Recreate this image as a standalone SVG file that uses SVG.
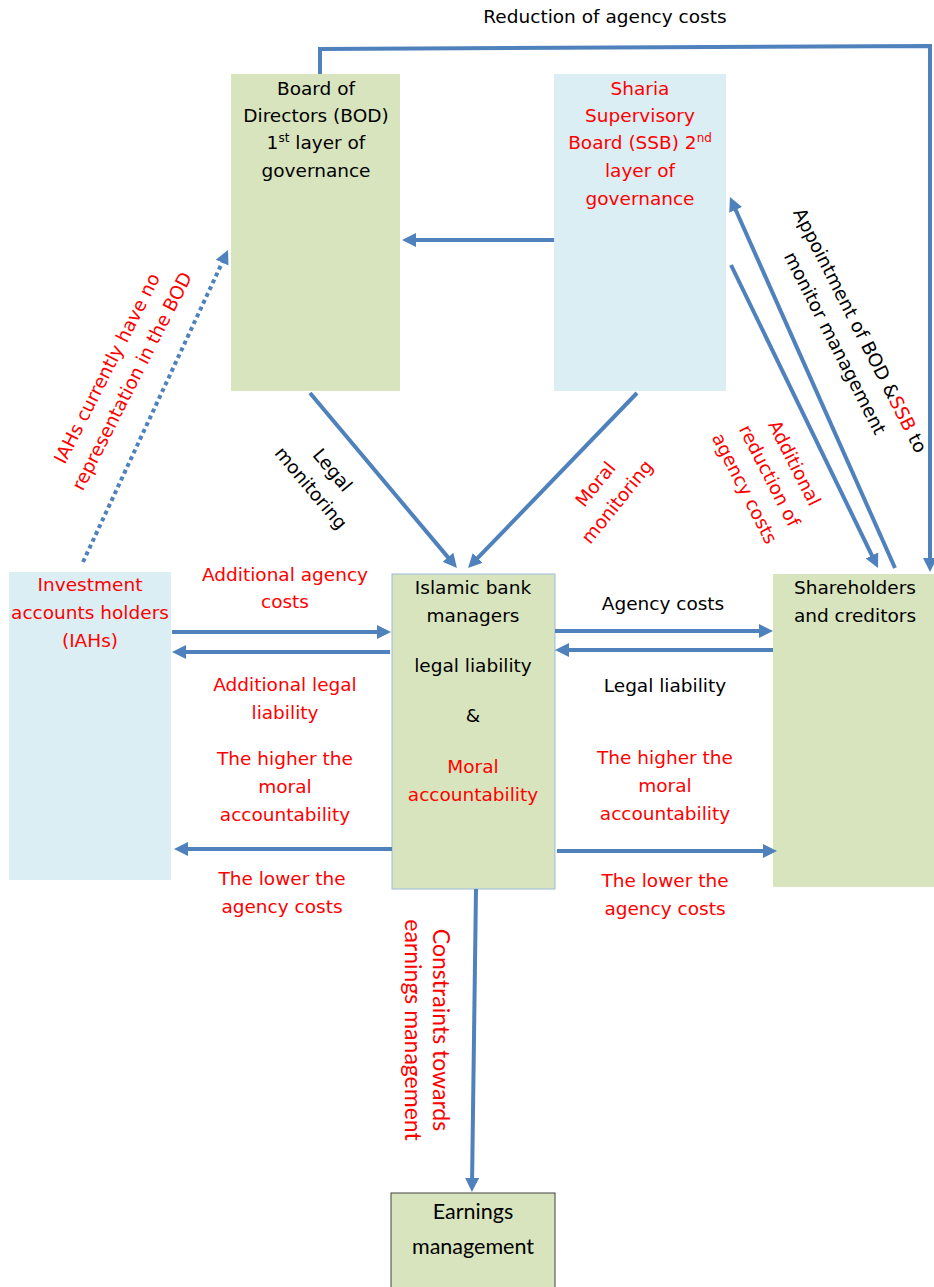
<svg xmlns="http://www.w3.org/2000/svg" width="934" height="1287" viewBox="0 0 934 1287">
<style>
text{font-family:"DejaVu Sans",Verdana,sans-serif;font-size:18.5px;fill:#000;text-anchor:middle}
.r{fill:#ff0000}
.cal{font-family:Lato,"Open Sans",sans-serif;font-size:21.5px}
.cal2{font-family:Lato,"Open Sans",sans-serif;font-size:23px}
.g{fill:#d7e4bd}
.b{fill:#dbeef4}
.c{fill:none;stroke:#4f81bd;stroke-width:4;marker-end:url(#ah)}
.sup{font-size:12px}
</style>
<defs>
<marker id="ah" markerUnits="userSpaceOnUse" markerWidth="14" markerHeight="14" refX="8" refY="7" orient="auto">
<path d="M0,0 L14,7 L0,14 z" fill="#4f81bd"/>
</marker>
</defs>
<rect width="934" height="1287" fill="#fff"/>

<g id="bod">
<rect class="g" x="231" y="74" width="169" height="317"/>
<text x="316" y="95">Board of</text>
<text x="316" y="122">Directors (BOD)</text>
<text x="316" y="149">1<tspan class="sup" dy="-7">st</tspan><tspan dy="7"> layer of</tspan></text>
<text x="316" y="177">governance</text>
</g>

<g id="ssb">
<rect class="b" x="554" y="74" width="172" height="317"/>
<text class="r" x="640" y="95">Sharia</text>
<text class="r" x="640" y="122">Supervisory</text>
<text class="r" x="640" y="149">Board (SSB) 2<tspan class="sup" dy="-7">nd</tspan></text>
<text class="r" x="640" y="177">layer of</text>
<text class="r" x="640" y="205">governance</text>
</g>

<g id="iahs">
<rect class="b" x="9" y="572" width="162" height="308"/>
<text class="r" x="90" y="591">Investment</text>
<text class="r" x="90" y="619">accounts holders</text>
<text class="r" x="90" y="647">(IAHs)</text>
</g>

<g id="managers">
<rect class="g" x="392" y="574" width="163" height="315" stroke="#9bbbd9" stroke-width="1"/>
<text x="473" y="594">Islamic bank</text>
<text x="473" y="622">managers</text>
<text x="473" y="672">legal liability</text>
<text x="473" y="722">&amp;</text>
<text class="r" x="473" y="773">Moral</text>
<text class="r" x="473" y="801">accountability</text>
</g>

<g id="shareholders">
<rect class="g" x="773" y="574" width="161" height="313"/>
<text x="855" y="594">Shareholders</text>
<text x="855" y="622">and creditors</text>
</g>

<g id="earnings">
<rect class="g" x="391" y="1193" width="164" height="100" stroke="#404040" stroke-width="1"/>
<text class="cal" x="473" y="1219">Earnings</text>
<text class="cal" x="473" y="1254">management</text>
</g>

<g id="connectors">
<polyline class="c" points="320,74 320,49 930,46 930,566"/>
<line class="c" x1="554" y1="240" x2="408" y2="240"/>
<line class="c" x1="310" y1="393" x2="453.1" y2="563.4"/>
<line class="c" x1="637" y1="393" x2="472.2" y2="563.7"/>
<line class="c" x1="895" y1="568" x2="732.4" y2="202.5"/>
<line class="c" x1="731" y1="265" x2="875.4" y2="562.6"/>
<line class="c" x1="83" y1="562" x2="225.5" y2="255.4" stroke-dasharray="4 3.5"/>
<line class="c" x1="172" y1="632" x2="385" y2="632"/>
<line class="c" x1="390" y1="652" x2="178" y2="652"/>
<line class="c" x1="392" y1="849" x2="180" y2="849"/>
<line class="c" x1="555" y1="631" x2="767" y2="631"/>
<line class="c" x1="773" y1="650" x2="561" y2="650"/>
<line class="c" x1="557" y1="851" x2="771" y2="851"/>
<line class="c" x1="476" y1="889" x2="472" y2="1186"/>
</g>

<g id="labels">
<text x="605" y="23">Reduction of agency costs</text>
<text class="r" x="285" y="581">Additional agency</text>
<text class="r" x="285" y="608">costs</text>
<text class="r" x="285" y="691">Additional legal</text>
<text class="r" x="285" y="719">liability</text>
<text class="r" x="285" y="765">The higher the</text>
<text class="r" x="285" y="793">moral</text>
<text class="r" x="285" y="821">accountability</text>
<text class="r" x="282" y="885">The lower the</text>
<text class="r" x="282" y="913">agency costs</text>
<text x="663" y="610">Agency costs</text>
<text x="665" y="692">Legal liability</text>
<text class="r" x="665" y="764">The higher the</text>
<text class="r" x="665" y="792">moral</text>
<text class="r" x="665" y="820">accountability</text>
<text class="r" x="665" y="887">The lower the</text>
<text class="r" x="665" y="915">agency costs</text>
<g transform="translate(118,374) rotate(-63)">
<text class="r" x="0" y="-6">IAHs currently have no</text>
<text class="r" x="0" y="22">representation in the BOD</text>
</g>
<g transform="translate(323,478) rotate(50)">
<text x="0" y="-6">Legal</text>
<text x="0" y="22">monitoring</text>
</g>
<g transform="translate(605,492) rotate(-51)">
<text class="r" x="0" y="-6">Moral</text>
<text class="r" x="0" y="22">monitoring</text>
</g>
<g transform="translate(849,336) rotate(63)">
<text x="0" y="-6">Appointment of BOD &amp;<tspan class="r">SSB</tspan> to</text>
<text x="0" y="22">monitor management</text>
</g>
<g transform="translate(771,475) rotate(63)">
<text class="r" x="0" y="-20">Additional</text>
<text class="r" x="0" y="8">reduction of</text>
<text class="r" x="0" y="36">agency costs</text>
</g>
<g transform="translate(428,1030) rotate(90)">
<text class="r cal2" x="0" y="-5">Constraints towards</text>
<text class="r cal2" x="0" y="23">earnings management</text>
</g>
</g>
</svg>
